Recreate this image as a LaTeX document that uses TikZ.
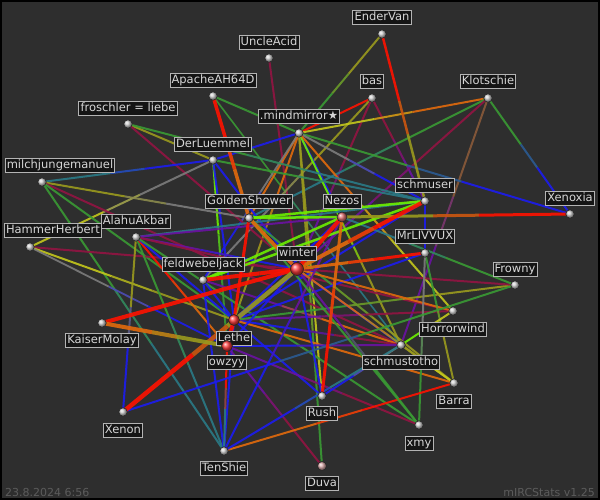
\documentclass[tikz,border=0pt]{standalone}
\usepackage{fontspec}
\setmainfont{DejaVu Sans}
\usetikzlibrary{calc}
\definecolor{bgc}{HTML}{2E2E2E}
\definecolor{labf}{HTML}{151515}
\definecolor{labd}{HTML}{B4B4B4}
\definecolor{labt}{HTML}{D6D6D6}
\definecolor{foot}{HTML}{5C5C5C}
\definecolor{R}{HTML}{FF1200}
\definecolor{O}{HTML}{E26A0C}
\definecolor{OL}{HTML}{9A9A1E}
\definecolor{Y}{HTML}{C4C81C}
\definecolor{LG}{HTML}{6CF000}
\definecolor{G}{HTML}{3A9A34}
\definecolor{T}{HTML}{2A7A86}
\definecolor{B}{HTML}{1C1CF0}
\definecolor{P}{HTML}{6A12A2}
\definecolor{DR}{HTML}{921442}
\definecolor{GR}{HTML}{7C7C7C}
\definecolor{BR}{HTML}{8A5A3A}
\definecolor{ballg}{HTML}{CCCCCC}
\definecolor{ballr}{HTML}{FF3C3C}
\definecolor{balln}{HTML}{E07070}
\definecolor{balld}{HTML}{D8A8A8}
\newcommand{\edg}[5]{%
  \draw[line width=#5pt,draw=#3,draw opacity=0.9] (#1) -- ($(#1)!0.4!(#2)$);
  \draw[line width=#5pt,draw=#3!50!#4,draw opacity=0.9] ($(#1)!0.4!(#2)$) -- ($(#1)!0.6!(#2)$);
  \draw[line width=#5pt,draw=#4,draw opacity=0.9] ($(#1)!0.6!(#2)$) -- (#2);}
\begin{document}
\begin{tikzpicture}[x=1pt,y=-1pt,
  lab/.style={fill=labf, draw=labd, line width=0.9pt, text=labt,
    font=\fontsize{11.5}{12}\selectfont, inner xsep=1.6pt, inner ysep=1.4pt,
    text height=8.8pt, text depth=2.4pt},
  dot/.style={circle, draw=black!85, line width=0.6pt, ball color=#1,
    minimum size=8.5pt, inner sep=0pt},
  foottext/.style={text=foot, font=\fontsize{11}{12}\selectfont, inner sep=0pt}]
\useasboundingbox (0,0) rectangle (600,500);
\fill[bgc] (0,0) rectangle (600,500);
\draw[black, line width=2pt] (1,1) rectangle (599,499);
% person positions
\coordinate (EnderVan) at (382,34);
\coordinate (UncleAcid) at (269,58);
\coordinate (Apache) at (213,96);
\coordinate (bas) at (372,98);
\coordinate (Klotschie) at (488,98);
\coordinate (froschler) at (128,124);
\coordinate (mind) at (299,133);
\coordinate (DerLuemmel) at (213,160);
\coordinate (milch) at (42,182);
\coordinate (Golden) at (249,218);
\coordinate (Nezos) at (342,217);
\coordinate (schmuser) at (425,201);
\coordinate (Xenoxia) at (570,214);
\coordinate (Alahu) at (136,237);
\coordinate (Hammer) at (30,247);
\coordinate (MrLIVVUX) at (425,253);
\coordinate (winter) at (297,269);
\coordinate (feldwebel) at (203,280);
\coordinate (Frowny) at (515,285);
\coordinate (Horrorwind) at (453,311);
\coordinate (Kaiser) at (102,323);
\coordinate (Lethe) at (234,320);
\coordinate (owzyy) at (227,346);
\coordinate (schmustotho) at (401,345);
\coordinate (Barra) at (454,383);
\coordinate (Xenon) at (123,412);
\coordinate (Rush) at (322,396);
\coordinate (xmy) at (419,425);
\coordinate (TenShie) at (224,451);
\coordinate (Duva) at (322,466);
% weak relations
\edg{EnderVan}{mind}{OL}{G}{2}
\edg{Apache}{mind}{G}{G}{2}
\edg{Apache}{schmustotho}{G}{T}{1.6}
\edg{UncleAcid}{winter}{DR}{DR}{2}
\edg{bas}{mind}{R}{R}{2}
\edg{bas}{feldwebel}{OL}{GR}{2}
\edg{bas}{winter}{DR}{P}{2}
\edg{bas}{schmuser}{DR}{P}{2}
\edg{Klotschie}{mind}{O}{Y}{2}
\edg{Klotschie}{Golden}{G}{T}{2}
\edg{Klotschie}{winter}{DR}{P}{2}
\edg{Klotschie}{schmustotho}{BR}{P}{2}
\edg{Klotschie}{Xenoxia}{G}{B}{2}
\edg{mind}{Xenoxia}{G}{B}{2}
\edg{mind}{DerLuemmel}{B}{B}{2}
\edg{mind}{Golden}{O}{O}{2}
\edg{mind}{Lethe}{O}{OL}{2}
\edg{mind}{Nezos}{B}{B}{2}
\edg{mind}{schmuser}{GR}{B}{2}
\edg{mind}{schmustotho}{LG}{OL}{2}
\edg{mind}{Horrorwind}{O}{Y}{2}
\edg{mind}{Duva}{OL}{G}{2}
\edg{mind}{Rush}{OL}{Y}{2}
\edg{mind}{feldwebel}{GR}{B}{1.8}
\edg{froschler}{DerLuemmel}{OL}{OL}{2}
\edg{froschler}{schmuser}{G}{T}{2}
\edg{froschler}{winter}{DR}{DR}{2}
\edg{DerLuemmel}{milch}{B}{T}{2}
\edg{DerLuemmel}{Hammer}{GR}{Y}{2}
\edg{DerLuemmel}{owzyy}{LG}{G}{2}
\edg{DerLuemmel}{schmuser}{G}{T}{2}
\edg{DerLuemmel}{winter}{B}{B}{2}
\edg{DerLuemmel}{Lethe}{B}{B}{2}
\edg{milch}{Golden}{OL}{GR}{2}
\edg{milch}{schmustotho}{DR}{DR}{2}
\edg{milch}{Lethe}{G}{G}{2}
\edg{milch}{TenShie}{G}{T}{2}
\edg{Hammer}{winter}{DR}{DR}{2}
\edg{Hammer}{Lethe}{Y}{OL}{2}
\edg{Hammer}{owzyy}{GR}{B}{1.8}
\edg{Alahu}{Xenon}{OL}{B}{2}
\edg{Alahu}{TenShie}{G}{T}{2}
\edg{Alahu}{owzyy}{R}{O}{2}
\edg{Alahu}{schmuser}{T}{T}{2}
\edg{Alahu}{Nezos}{P}{P}{2}
\edg{Alahu}{Lethe}{B}{B}{2}
\edg{Alahu}{winter}{P}{B}{2}
\edg{Alahu}{Horrorwind}{DR}{DR}{2}
\edg{Alahu}{xmy}{G}{G}{2}
\edg{Golden}{Barra}{G}{OL}{2}
\edg{feldwebel}{Lethe}{B}{B}{2}
\edg{feldwebel}{TenShie}{B}{B}{2}
\edg{feldwebel}{schmustotho}{P}{O}{2}
\edg{Lethe}{Nezos}{B}{B}{2}
\edg{Lethe}{schmuser}{B}{B}{2}
\edg{Lethe}{MrLIVVUX}{B}{B}{2}
\edg{Lethe}{winter}{B}{B}{2.5}
\edg{Lethe}{schmustotho}{B}{DR}{2}
\edg{Lethe}{Horrorwind}{P}{DR}{2}
\edg{Lethe}{Barra}{O}{O}{2}
\edg{Lethe}{Frowny}{G}{OL}{2}
\edg{Lethe}{Rush}{B}{B}{2}
\edg{Lethe}{TenShie}{B}{B}{2}
\edg{owzyy}{winter}{B}{B}{2}
\edg{owzyy}{TenShie}{R}{T}{2}
\edg{owzyy}{Duva}{P}{DR}{2}
\edg{owzyy}{xmy}{P}{DR}{2}
\edg{owzyy}{schmustotho}{B}{P}{2}
\edg{winter}{schmustotho}{B}{B}{2}
\edg{winter}{Rush}{B}{B}{2}
\edg{winter}{Horrorwind}{O}{O}{2}
\edg{winter}{Frowny}{DR}{DR}{2}
\edg{winter}{Barra}{O}{OL}{2}
\edg{winter}{xmy}{P}{G}{2}
\edg{Nezos}{Frowny}{T}{G}{2}
\edg{Nezos}{TenShie}{P}{B}{2}
\edg{schmuser}{MrLIVVUX}{B}{B}{2.5}
\edg{MrLIVVUX}{Barra}{G}{OL}{2}
\edg{MrLIVVUX}{xmy}{GR}{G}{2}
\edg{Horrorwind}{schmustotho}{Y}{LG}{2}
\edg{Barra}{schmustotho}{Y}{OL}{2}
\edg{Barra}{TenShie}{R}{O}{2}
\edg{Rush}{schmustotho}{B}{GR}{2}
\edg{Xenon}{Frowny}{B}{G}{2}
\edg{TenShie}{schmustotho}{B}{T}{2}
\edg{Golden}{xmy}{G}{G}{2}
% strong relations
\edg{Golden}{Nezos}{LG}{LG}{2.5}
\edg{Golden}{schmuser}{LG}{LG}{2.5}
\edg{feldwebel}{schmuser}{LG}{LG}{2.5}
\edg{feldwebel}{Nezos}{LG}{LG}{2.5}
\edg{EnderVan}{schmuser}{R}{OL}{2.5}
\edg{Golden}{Apache}{O}{R}{3.5}
\edg{Golden}{winter}{O}{O}{3.5}
\edg{Golden}{Lethe}{R}{R}{3}
\edg{Nezos}{Xenoxia}{OL}{R}{3}
\edg{Nezos}{Rush}{O}{R}{3}
\edg{winter}{MrLIVVUX}{O}{R}{3}
\edg{winter}{schmuser}{O}{R}{4}
\edg{winter}{Nezos}{R}{R}{4}
\edg{winter}{feldwebel}{R}{R}{4}
\edg{winter}{Kaiser}{R}{R}{4}
\edg{winter}{Xenon}{OL}{R}{4.5}
\edg{Kaiser}{owzyy}{O}{OL}{4}
\edg{Lethe}{owzyy}{R}{R}{4}
% labels
\node[lab] (EnderVan-l) at (382,17) {EnderVan};
\node[lab] (UncleAcid-l) at (269,42) {UncleAcid};
\node[lab] (Apache-l) at (213,80) {ApacheAH64D};
\node[lab] (bas-l) at (372,81) {bas};
\node[lab] (Klotschie-l) at (488,81) {Klotschie};
\node[lab] (froschler-l) at (128,108) {froschler = liebe};
\node[lab] (mind-l) at (299,116) {.mindmirror★};
\node[lab] (DerLuemmel-l) at (213,144) {DerLuemmel};
\node[lab] (milch-l) at (60,165) {milchjungemanuel};
\node[lab] (Golden-l) at (249,201.5) {GoldenShower};
\node[lab] (Nezos-l) at (342,201) {Nezos};
\node[lab] (schmuser-l) at (425,185) {schmuser};
\node[lab] (Xenoxia-l) at (570,198) {Xenoxia};
\node[lab] (Alahu-l) at (136,221) {AlahuAkbar};
\node[lab] (Hammer-l) at (53,230.5) {HammerHerbert};
\node[lab] (MrLIVVUX-l) at (425,236) {MrLIVVUX};
\node[lab] (winter-l) at (297,253) {winter};
\node[lab] (feldwebel-l) at (203,264) {feldwebeljack};
\node[lab] (Frowny-l) at (515,269) {Frowny};
\node[lab] (Horrorwind-l) at (453,329) {Horrorwind};
\node[lab] (Kaiser-l) at (102,340) {KaiserMolay};
\node[lab] (Lethe-l) at (234,338) {Lethe};
\node[lab] (owzyy-l) at (227,362) {owzyy};
\node[lab] (schmustotho-l) at (401,362) {schmustotho};
\node[lab] (Barra-l) at (454,401) {Barra};
\node[lab] (Xenon-l) at (123,430) {Xenon};
\node[lab] (Rush-l) at (322,413) {Rush};
\node[lab] (xmy-l) at (419,443) {xmy};
\node[lab] (TenShie-l) at (224,468) {TenShie};
\node[lab] (Duva-l) at (322,483) {Duva};
% people
\node[dot=ballg] (EnderVan-d) at (EnderVan) {};
\node[dot=ballg] (UncleAcid-d) at (UncleAcid) {};
\node[dot=ballg] (Apache-d) at (Apache) {};
\node[dot=ballg] (bas-d) at (bas) {};
\node[dot=ballg] (Klotschie-d) at (Klotschie) {};
\node[dot=ballg] (froschler-d) at (froschler) {};
\node[dot=ballg] (mind-d) at (mind) {};
\node[dot=ballg] (DerLuemmel-d) at (DerLuemmel) {};
\node[dot=ballg] (milch-d) at (milch) {};
\node[dot=ballg] (Golden-d) at (Golden) {};
\node[dot=balln, minimum size=10pt] (Nezos-d) at (Nezos) {};
\node[dot=ballg] (schmuser-d) at (schmuser) {};
\node[dot=ballg] (Xenoxia-d) at (Xenoxia) {};
\node[dot=ballg] (Alahu-d) at (Alahu) {};
\node[dot=ballg] (Hammer-d) at (Hammer) {};
\node[dot=ballg] (MrLIVVUX-d) at (MrLIVVUX) {};
\node[dot=ballr, minimum size=13pt] (winter-d) at (winter) {};
\node[dot=ballg] (feldwebel-d) at (feldwebel) {};
\node[dot=ballg] (Frowny-d) at (Frowny) {};
\node[dot=ballg] (Horrorwind-d) at (Horrorwind) {};
\node[dot=ballg] (Kaiser-d) at (Kaiser) {};
\node[dot=ballr, minimum size=11pt] (Lethe-d) at (Lethe) {};
\node[dot=ballr, minimum size=11pt] (owzyy-d) at (owzyy) {};
\node[dot=ballg] (schmustotho-d) at (schmustotho) {};
\node[dot=ballg] (Barra-d) at (Barra) {};
\node[dot=ballg] (Xenon-d) at (Xenon) {};
\node[dot=ballg] (Rush-d) at (Rush) {};
\node[dot=ballg] (xmy-d) at (xmy) {};
\node[dot=ballg] (TenShie-d) at (TenShie) {};
\node[dot=balld, minimum size=9pt] (Duva-d) at (Duva) {};
% footer
\node[foottext, anchor=west] (date) at (5,492) {23.8.2024 6:56};
\node[foottext, anchor=east] (version) at (595,492) {mIRCStats v1.25};
\end{tikzpicture}
\end{document}
